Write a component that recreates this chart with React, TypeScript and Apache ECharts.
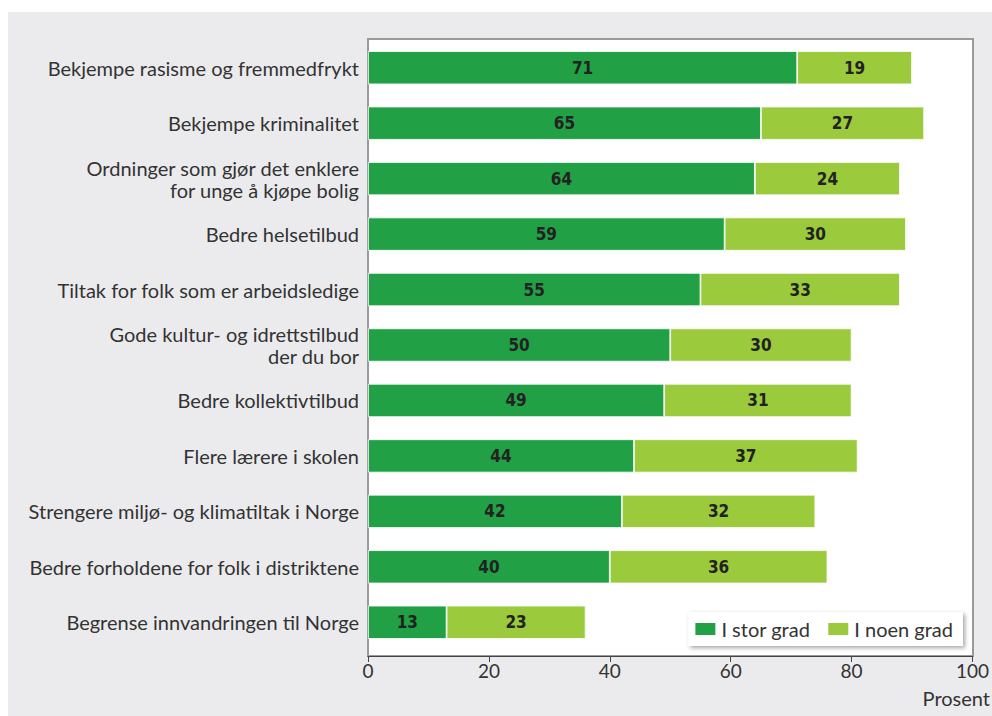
import React, { useEffect, useRef } from "react";
import * as echarts from "echarts";

const categories = [
  "Bekjempe rasisme og fremmedfrykt",
  "Bekjempe kriminalitet",
  "Ordninger som gjør det enklere\nfor unge å kjøpe bolig",
  "Bedre helsetilbud",
  "Tiltak for folk som er arbeidsledige",
  "Gode kultur- og idrettstilbud\nder du bor",
  "Bedre kollektivtilbud",
  "Flere lærere i skolen",
  "Strengere miljø- og klimatiltak i Norge",
  "Bedre forholdene for folk i distriktene",
  "Begrense innvandringen til Norge",
];
const storGrad = [71, 65, 64, 59, 55, 50, 49, 44, 42, 40, 13];
const noenGrad = [19, 27, 24, 30, 33, 30, 31, 37, 32, 36, 23];
const seriesNames = ["I stor grad", "I noen grad"];
const xTicks = [0, 20, 40, 60, 80, 100];
const axisTitle = "Prosent";

const FONT = "Lato, 'Noto Sans', sans-serif";
const LABEL_FONT = "'Liberation Sans Narrow', 'DejaVu Sans Condensed', sans-serif";

export default function App() {
  const ref = useRef<HTMLDivElement>(null);
  useEffect(() => {
    if (!ref.current) return;
    const chart = echarts.init(ref.current, undefined, { renderer: "svg" });
    const labelStyle = {
      show: true,
      position: "inside",
      color: "#222",
      fontFamily: LABEL_FONT,
      fontWeight: "bold",
      fontSize: 17,
    };
    chart.setOption({
      animation: false,
      backgroundColor: "#ffffff",
      textStyle: { fontFamily: FONT },
      graphic: [
        {
          type: "rect",
          z: -11,
          silent: true,
          shape: { x: 8, y: 12, width: 984, height: 704 },
          style: { fill: "#ebebed" },
        },
        {
          type: "rect",
          z: -10,
          silent: true,
          shape: { x: 368, y: 39, width: 605, height: 617 },
          style: { fill: "#ffffff", stroke: "#9a9a9a", lineWidth: 2 },
        },
        {
          type: "text",
          right: 2,
          top: 688,
          style: { text: axisTitle, fontFamily: FONT, fontSize: 20, fill: "#333" },
        },
      ],
      grid: {
        left: 368,
        top: 40,
        right: 19,
        bottom: 66,
      },
      legend: {
        right: 29,
        bottom: 70,
        orient: "horizontal",
        backgroundColor: "#ffffff",
        shadowBlur: 4,
        shadowColor: "rgba(0,0,0,0.35)",
        shadowOffsetX: 2,
        shadowOffsetY: 2,
        padding: [7, 10, 7, 5],
        itemWidth: 22,
        itemHeight: 14,
        itemGap: 16,
        icon: "rect",
        textStyle: { fontFamily: FONT, fontSize: 20, color: "#333" },
        data: seriesNames,
      },
      xAxis: {
        type: "value",
        min: 0,
        max: 100,
        interval: 20,
        offset: 6,
        splitLine: { show: false },
        axisLine: { show: true, lineStyle: { color: "#444", width: 1 } },
        axisTick: { show: true, length: 6, lineStyle: { color: "#444" } },
        axisLabel: {
          fontFamily: FONT,
          fontSize: 19,
          color: "#333",
          margin: 5,
          formatter: (v: number) => (xTicks.includes(v) ? String(v) : ""),
        },
      },
      yAxis: {
        type: "category",
        inverse: true,
        data: categories,
        axisLine: { show: false },
        axisTick: { show: false },
        axisLabel: {
          fontFamily: FONT,
          fontSize: 20,
          color: "#333",
          margin: 9,
          align: "right",
          lineHeight: 22,
        },
      },
      series: [
        {
          name: seriesNames[0],
          type: "bar",
          stack: "total",
          data: storGrad,
          barCategoryGap: "40%",
          itemStyle: { color: "#21a046", borderColor: "#ffffff", borderWidth: 0.8 },
          label: labelStyle,
        },
        {
          name: seriesNames[1],
          type: "bar",
          stack: "total",
          data: noenGrad,
          itemStyle: { color: "#9bca3c", borderColor: "#ffffff", borderWidth: 0.8 },
          label: labelStyle,
        },
      ],
    });
    return () => chart.dispose();
  }, []);
  return (
    <div
      ref={ref}
      style={{ position: "fixed", left: 0, top: 0, width: 992, height: 716 }}
    />
  );
}
